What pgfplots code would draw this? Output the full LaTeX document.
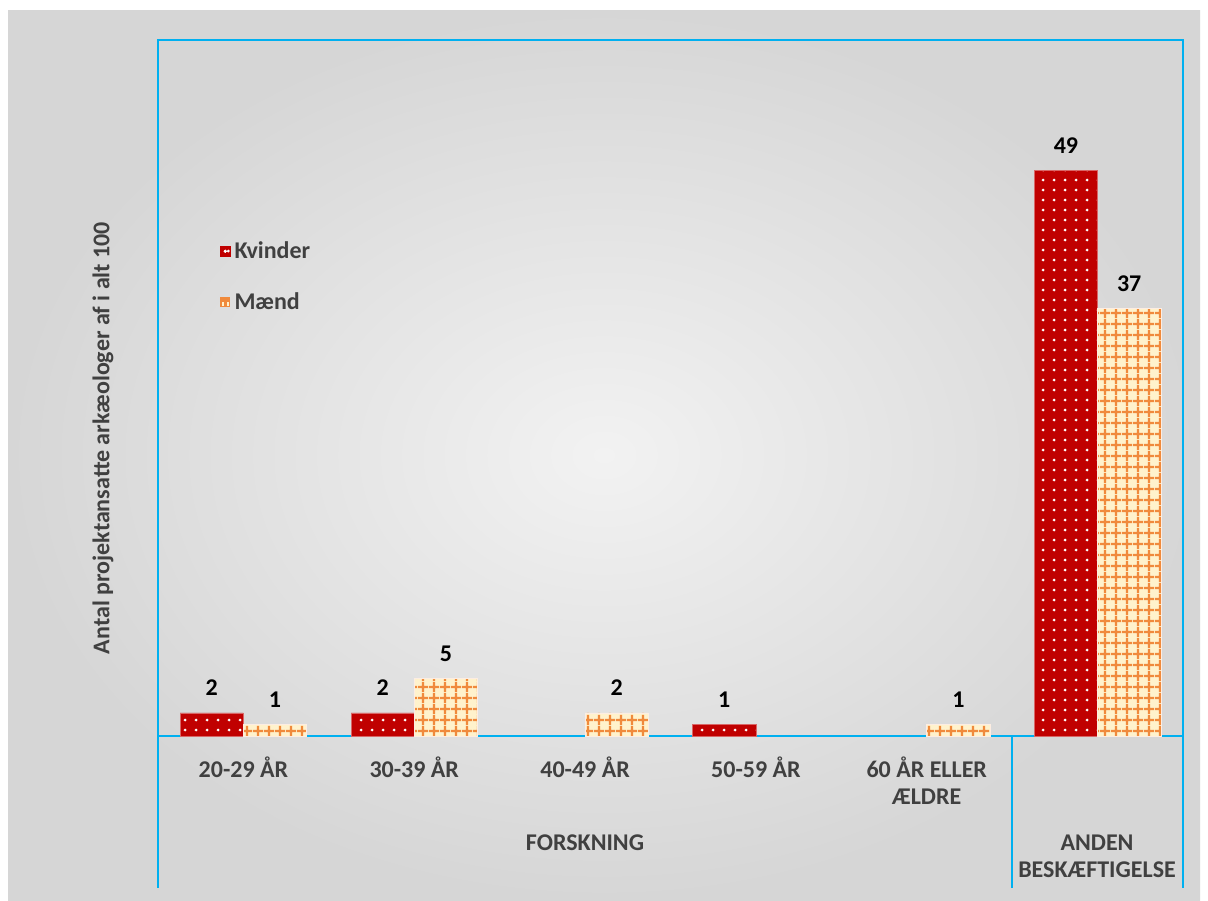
\documentclass[border=0pt]{standalone}
\usepackage{fontspec}
\setmainfont{Carlito}
\usepackage{pgfplots}
\pgfplotsset{compat=1.18}
\usetikzlibrary{patterns.meta}
\definecolor{axcyan}{HTML}{00B0F0}
\definecolor{kred}{HTML}{C00000}
\definecolor{mcream}{HTML}{FFF2CC}
\definecolor{morange}{HTML}{F08A3C}
\definecolor{lblgray}{HTML}{404040}
\tikzdeclarepattern{name=wdots, type=uncolored,
  bounding box={(0pt,0pt) and (5.3pt,5.2pt)}, tile size={(5.3pt,5.2pt)},
  code={\pgfpathcircle{\pgfpoint{2.65pt}{2.6pt}}{0.8pt}\pgfusepath{fill}}}
\tikzdeclarepattern{name=ogrid, type=uncolored,
  bounding box={(0pt,0pt) and (5.5pt,5.5pt)}, tile size={(5.5pt,5.5pt)},
  code={\pgfsetlinewidth{1.2pt}%
    \pgfpathmoveto{\pgfpoint{0pt}{2.75pt}}\pgfpathlineto{\pgfpoint{5.5pt}{2.75pt}}%
    \pgfpathmoveto{\pgfpoint{2.75pt}{0pt}}\pgfpathlineto{\pgfpoint{2.75pt}{5.5pt}}%
    \pgfusepath{stroke}}}
\begin{document}
\begin{tikzpicture}
\useasboundingbox (0,0) rectangle (604pt,-450pt);
\fill[white] (0,0) rectangle (604pt,-450pt);
\shade[inner color={rgb,255:red,242;green,242;blue,242}, outer color={rgb,255:red,214;green,214;blue,214}]
  (4pt,-5pt) rectangle (600pt,-450pt);
\begin{axis}[
  at={(79pt,-368pt)}, anchor=south west,
  scale only axis, width=512.5pt, height=348pt,
  xmin=-0.5, xmax=5.5, ymin=0, ymax=60.26,
  ybar=0pt, bar width=0.37,
  axis line style={axcyan, line width=0.9pt},
  xtick={0,1,2,3,4,5},
  xticklabels={20-29 ÅR,30-39 ÅR,40-49 ÅR,50-59 ÅR,{60 ÅR ELLER\\ÆLDRE},{}},
  major tick length=0pt,
  xticklabel style={align=center, anchor=north, yshift=-7pt, text=lblgray,
    font=\fontsize{12}{13.5}\selectfont\bfseries},
  ytick=\empty,
  /pgf/number format/assume math mode=true,
  nodes near coords,
  nodes near coords style={font=\fontsize{12}{14}\selectfont\bfseries, text=black, yshift=5pt},
  clip=false,
  legend style={at={(0.06,0.717)}, anchor=north west, draw=none, fill=none,
    font=\fontsize{12}{14}\selectfont\bfseries, text=lblgray, row sep=11.5pt,
    inner sep=0pt},
  legend cell align=left,
]
\addplot[fill=kred, draw=kred!60!white, line width=0.3pt,
  postaction={pattern=wdots, pattern color=white},
  legend image code/.code={\fill[kred] (0pt,-2.5pt) rectangle (5pt,2.5pt);
    \fill[white] (2.5pt,0pt) circle (0.6pt);}]
  coordinates {(0,2) (1,2) (3,1) (5,49)};
\addlegendentry{Kvinder}
\addplot[fill=mcream, draw=white!85!morange, line width=0.3pt,
  postaction={pattern=ogrid, pattern color=morange},
  legend image code/.code={\draw[morange, fill=mcream, line width=0.8pt]
    (0.4pt,-2.1pt) rectangle (4.6pt,2.1pt);}]
  coordinates {(0,1) (1,5) (2,2) (4,1) (5,37)};
\addlegendentry{Mænd}
\end{axis}
\draw[axcyan, line width=0.9pt] (79pt,-20pt) -- (79pt,-444pt);
\draw[axcyan, line width=0.9pt] (591.5pt,-20pt) -- (591.5pt,-444pt);
\draw[axcyan, line width=0.9pt] (506pt,-368pt) -- (506pt,-444pt);
\node[text=lblgray, font=\fontsize{12}{13.5}\selectfont\bfseries] at (292.5pt,-421.5pt) {FORSKNING};
\node[text=lblgray, align=center, font=\fontsize{12}{13.5}\selectfont\bfseries] at (548.5pt,-428.25pt) {ANDEN\\BESKÆFTIGELSE};
\node[rotate=90, text=lblgray, font=\fontsize{12}{14}\selectfont\bfseries] at (51.5pt,-219pt) {Antal projektansatte arkæologer af i alt 100};
\end{tikzpicture}
\end{document}
